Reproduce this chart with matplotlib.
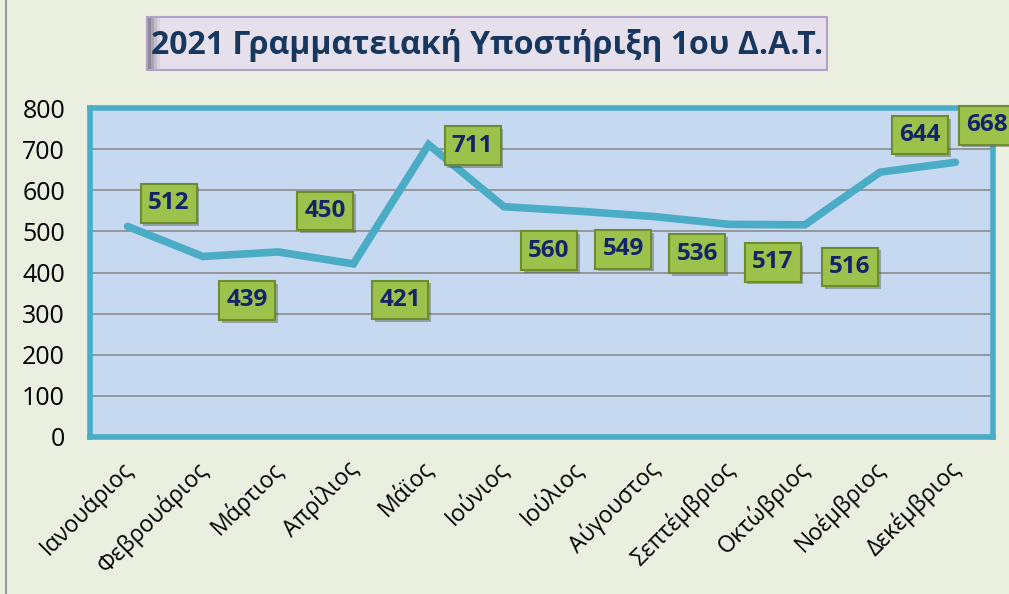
import matplotlib
matplotlib.use("Agg")
import matplotlib.pyplot as plt
from matplotlib.patches import Rectangle
from matplotlib.transforms import ScaledTranslation
import matplotlib.patheffects as pe
import numpy as np

# data
months = ["Ιανουάριος", "Φεβρουάριος", "Μάρτιος", "Απρίλιος", "Μάϊος", "Ιούνιος",
          "Ιούλιος", "Αύγουστος", "Σεπτέμβριος", "Οκτώβριος", "Νοέμβριος", "Δεκέμβριος"]
values = [512, 439, 450, 421, 711, 560, 549, 536, 517, 516, 644, 668]
yticks = [0, 100, 200, 300, 400, 500, 600, 700, 800]
title = "2021 Γραμματειακή Υποστήριξη 1ου Δ.Α.Τ."

# label offsets in pixels (dx, dy) relative to each point
label_offsets = [(41, 23), (44, -44), (47, 41), (47, -36), (44, -1), (45, -44),
                 (44, -38), (43, -37), (43, -38), (45, -42), (40, 37), (32, 37)]

plt.rcParams['font.family'] = ['Open Sans', 'DejaVu Sans']

W, H = 1009, 594
fig = plt.figure(figsize=(W / 100, H / 100), dpi=100)
fig.patch.set_facecolor('#EBEFDF')

ax = fig.add_axes([90 / W, 1 - 437 / H, (993 - 90) / W, (437 - 108) / H])
ax.set_facecolor('#C6D9F1')

x = np.arange(len(months))
ax.plot(x, values, color='#4BACC6', lw=5.5, solid_capstyle='round',
        solid_joinstyle='miter', zorder=3)

ax.set_xlim(-0.5, len(months) - 0.5)
ax.set_ylim(0, 800)
ax.set_yticks(yticks)
ax.set_yticklabels([str(v) for v in yticks], fontsize=18)
ax.set_xticks(x)
ax.set_xticklabels(months, rotation=45, ha='right', rotation_mode='anchor', fontsize=16.5)
ax.tick_params(axis='x', length=0, pad=14)
ax.tick_params(axis='y', length=0, pad=18)
shift = ScaledTranslation(-8 / 100, 0, fig.dpi_scale_trans)
for lbl in ax.get_xticklabels():
    lbl.set_transform(lbl.get_transform() + shift)
for t in yticks[1:-1]:
    ax.axhline(t, color='#8C8C8C', lw=1.2, zorder=1)
for s in ax.spines.values():
    s.set_color('#4BACC6')
    s.set_linewidth(4)

# value labels in green boxes
for xi, v, (dx, dy) in zip(x, values, label_offsets):
    ax.annotate(str(v), (xi, v), xytext=(dx * 0.72, dy * 0.72), textcoords='offset points',
                ha='center', va='center', fontsize=17.5, fontweight='bold', color='#14246B',
                annotation_clip=False, zorder=5,
                bbox=dict(boxstyle='square,pad=0.3', fc='#9DC24C', ec='#6E8C2E', lw=1.5,
                          path_effects=[pe.SimplePatchShadow(offset=(2, -2), alpha=0.35),
                                        pe.Normal()]))

# title box
fig.patches.append(Rectangle((147 / W, 1 - 70 / H), (827 - 147) / W, 53 / H,
                             transform=fig.transFigure, fc='#E5E0EC', ec='#B3A2C7', lw=1.5))
for i, c in enumerate(['#8E8798', '#A9A2B3', '#C3BDCB', '#D7D1DE']):
    fig.patches.append(Rectangle(((148 + i * 3) / W, 1 - 69 / H), 3 / W, 51 / H,
                                 transform=fig.transFigure, fc=c, ec='none'))
fig.text(487 / W, 1 - 45 / H, title, ha='center', va='center', fontsize=23,
         fontweight='bold', color='#17375E')

# left edge line of the chart frame
fig.add_artist(plt.Line2D([6 / W, 6 / W], [0, 1], color='#9A9A9A', lw=1.5,
                          transform=fig.transFigure))

fig.savefig('out.png', dpi=100, facecolor=fig.get_facecolor())
